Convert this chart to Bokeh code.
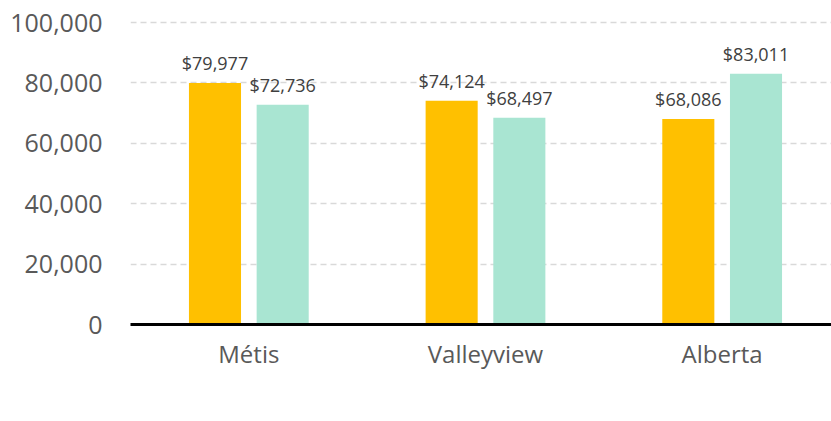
from bokeh.plotting import figure
from bokeh.models import ColumnDataSource, Range1d, LabelSet, Legend, LegendItem, FixedTicker, NumeralTickFormatter
from bokeh.core.properties import value
from bokeh.embed import file_html
from bokeh.resources import INLINE

categories = ["Métis", "Valleyview", "Alberta"]
median_income = [79977, 74124, 68086]
average_income = [72736, 68497, 83011]
series_names = ["Median after-tax household income ($)", "Average after-tax household income ($)"]
series_colors = ["#FFC000", "#A9E5D2"]
y_ticks = [0, 20000, 40000, 60000, 80000, 100000]

FONT = "Open Sans"
pos = list(range(len(categories)))
off = 0.143
bw = 0.22

src_m = ColumnDataSource(dict(x=[p - off for p in pos], top=median_income,
                              lab=["${:,}".format(v) for v in median_income]))
src_a = ColumnDataSource(dict(x=[p + off for p in pos], top=average_income,
                              lab=["${:,}".format(v) for v in average_income]))
sources = [src_m, src_a]

p = figure(frame_width=701, frame_height=309, output_backend="svg", toolbar_location=None,
           x_range=Range1d(-0.5, 2.462), y_range=Range1d(0, 102318),
           min_border_left=130, min_border_right=0, min_border_top=15, min_border_bottom=0)
p.outline_line_color = None
p.background_fill_color = "white"
p.border_fill_color = "white"

renderers = []
for s, c in zip(sources, series_colors):
    renderers.append(p.vbar(x="x", top="top", width=bw, source=s, color=c, line_color=None))
    p.add_layout(LabelSet(x="x", y="top", text="lab", source=s, text_align="center",
                          text_baseline="alphabetic", y_offset=13, text_font=value(FONT),
                          text_font_size="18px", text_color="#404040"))

p.xgrid.grid_line_color = None
p.ygrid.grid_line_color = "#D9D9D9"
p.ygrid.grid_line_dash = "6 4"
p.ygrid.grid_line_width = 1.3

p.yaxis.ticker = FixedTicker(ticks=y_ticks)
p.yaxis.formatter = NumeralTickFormatter(format="0,0")
p.yaxis.axis_line_color = None
p.yaxis.major_tick_line_color = None
p.yaxis.minor_tick_line_color = None
p.yaxis.major_label_text_font = FONT
p.yaxis.major_label_text_font_size = "25px"
p.yaxis.major_label_text_color = "#595959"
p.yaxis.major_label_standoff = 22

p.xaxis.ticker = FixedTicker(ticks=pos)
p.xaxis.major_label_overrides = {i: c for i, c in enumerate(categories)}
p.xaxis.axis_line_color = "black"
p.xaxis.axis_line_width = 3
p.xaxis.major_tick_line_color = None
p.xaxis.minor_tick_line_color = None
p.xaxis.major_label_text_font = FONT
p.xaxis.major_label_text_font_size = "24px"
p.xaxis.major_label_text_color = "#595959"
p.xaxis.major_label_standoff = 6

legend = Legend(items=[LegendItem(label=n, renderers=[r]) for n, r in zip(series_names, renderers)],
                orientation="horizontal", location=(-68, 0),
                label_text_font=FONT, label_text_font_size="18px", label_text_color="#595959",
                glyph_width=12, glyph_height=12, label_standoff=15, spacing=20,
                border_line_color=None, background_fill_alpha=0, padding=0, margin=0)
p.add_layout(legend, "below")

open("out.html", "w").write(file_html(p, INLINE))
